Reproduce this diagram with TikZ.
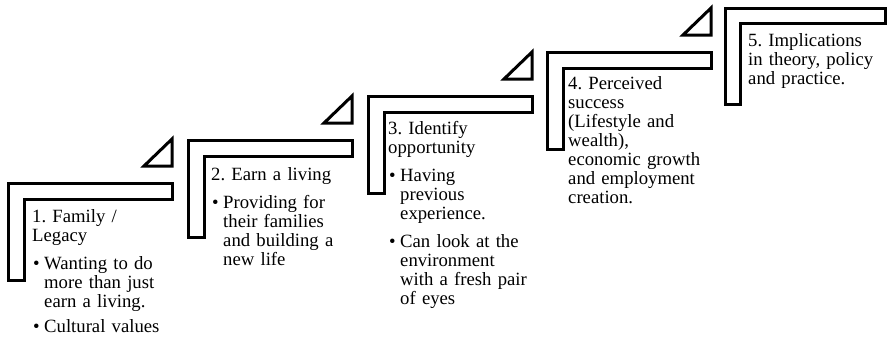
\documentclass[tikz,border=0pt]{standalone}
\usepackage{fontspec}
\setmainfont{Liberation Serif}
\frenchspacing
\newcommand\bul{\makebox[12pt][l]{\hspace{1pt}\textbullet}}
\newcommand\ind{\hspace*{12pt}}
\begin{document}
\begin{tikzpicture}[x=1pt,y=-1pt,
  stair/.style={draw=black, line width=3pt, line join=miter},
  steptext/.style={anchor=base west, inner sep=0pt, align=left,
    text width=140pt, font=\fontsize{18.7}{19}\selectfont},
]
\useasboundingbox (0,0) rectangle (887,338);

% one stair: an L-shaped tread with a small triangle above its right end
\newcommand\drawstair[2]{%
  \draw[stair] (#1,#2) -- ++(164,0) -- ++(0,16) -- ++(-148,0) -- ++(0,81)
    -- ++(-16,0) -- cycle;
  \draw[stair] (#1+164,#2-44) -- (#1+164,#2-17) -- (#1+136,#2-17) -- cycle;
}
\drawstair{8}{183}
\drawstair{188}{140}
\drawstair{368}{96}
\drawstair{547}{52}
% the last tread has no triangle
\draw[stair] (725,8) -- ++(160,0) -- ++(0,15) -- ++(-145,0) -- ++(0,81)
  -- ++(-15,0) -- cycle;

\node[steptext] (s1) at (32,222.7) {1. Family /\\Legacy\\[8.5pt]%
  \bul Wanting to do\\\ind more than just\\\ind earn a living.\\[6.5pt]%
  \bul Cultural values};
\node[steptext] (s2) at (211,180) {2. Earn a living\\[9.5pt]%
  \bul Providing for\\\ind their families\\\ind and building a\\\ind new life};
\node[steptext] (s3) at (388,134) {3. Identify\\opportunity\\[9pt]%
  \bul Having\\\ind previous\\\ind experience.\\[9pt]%
  \bul Can look at the\\\ind environment\\\ind with a fresh pair\\\ind of eyes};
\node[steptext, font=\fontsize{18.7}{19.1}\selectfont] (s4) at (568,89.3)
  {4. Perceived\\success\\(Lifestyle and\\wealth),\\economic growth\\and employment\\creation.};
\node[steptext] (s5) at (748,46.5) {5. Implications\\in theory, policy\\and practice.};
\end{tikzpicture}
\end{document}
